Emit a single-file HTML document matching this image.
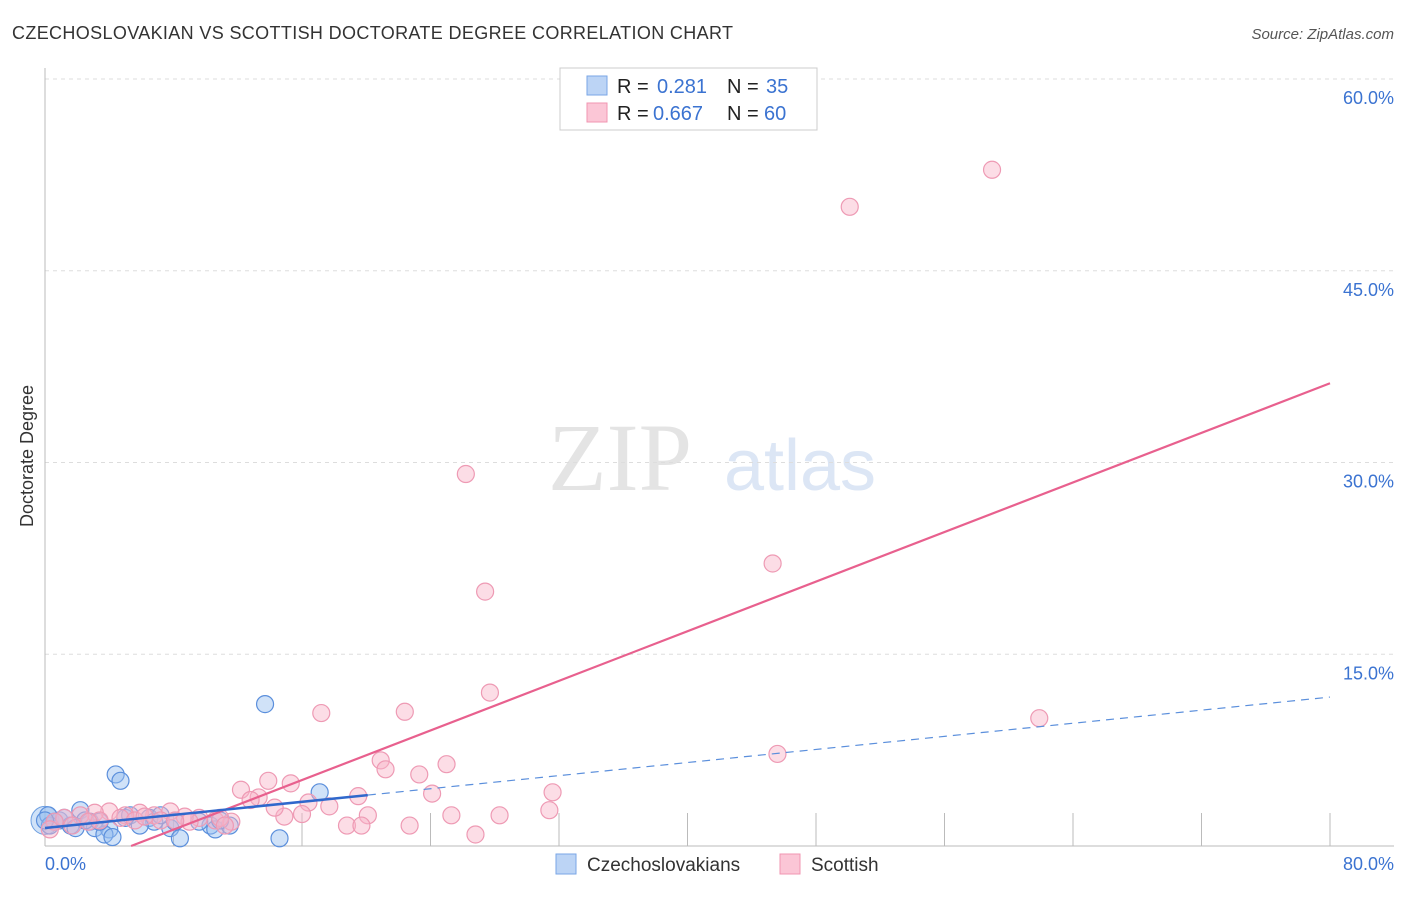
<!DOCTYPE html>
<html><head><meta charset="utf-8"><style>
body{margin:0;background:#fff;font-family:"Liberation Sans",sans-serif;}
</style></head><body>
<svg width="1406" height="892" xmlns="http://www.w3.org/2000/svg" style="font-family:'Liberation Sans',sans-serif">
<text x="12" y="39" font-size="18" fill="#333" textLength="721">CZECHOSLOVAKIAN VS SCOTTISH DOCTORATE DEGREE CORRELATION CHART</text>
<text x="1394" y="39" font-size="15" fill="#555" text-anchor="end" font-style="italic">Source: ZipAtlas.com</text>
<text x="620" y="490" font-size="96" fill="#e4e4e4" font-family="'Liberation Serif',serif" text-anchor="middle">ZIP</text>
<text x="800" y="490" font-size="72" fill="#dce6f5" text-anchor="middle">atlas</text>
<g id="grid"></g>
<g id="axes"></g>
<g id="marks"></g>
<text transform="translate(33,456) rotate(-90)" font-size="18" fill="#333" text-anchor="middle">Doctorate Degree</text>
<text x="45" y="870" font-size="18" fill="#3b73d1">0.0%</text>
<text x="1394" y="870" font-size="18" fill="#3b73d1" text-anchor="end">80.0%</text>
<g>
<rect x="560" y="68" width="257" height="62" fill="#fff" stroke="#ccc"/>
<rect x="587" y="76" width="20" height="19" fill="#bcd4f5" stroke="#7aa6e6"/>
<rect x="587" y="103" width="20" height="19" fill="#fbc6d6" stroke="#f095b1"/>
<text x="617" y="93" font-size="20" fill="#222">R = </text><text x="657" y="93" font-size="20" fill="#3b73d1">0.281</text>
<text x="727" y="93" font-size="20" fill="#222">N = </text><text x="766" y="93" font-size="20" fill="#3b73d1">35</text>
<text x="617" y="120" font-size="20" fill="#222">R = </text><text x="653" y="120" font-size="20" fill="#3b73d1">0.667</text>
<text x="727" y="120" font-size="20" fill="#222">N = </text><text x="764" y="120" font-size="20" fill="#3b73d1">60</text>
</g>
<g>
<rect x="556" y="854" width="20" height="20" fill="#bcd4f5" stroke="#7aa6e6"/>
<text x="587" y="871" font-size="19" fill="#333">Czechoslovakians</text>
<rect x="780" y="854" width="20" height="20" fill="#fbc6d6" stroke="#f095b1"/>
<text x="811" y="871" font-size="19" fill="#333">Scottish</text>
</g>
</svg>
<script>
const yTicks=[15,30,45,60];
const yTickLabels=["15.0%","30.0%","45.0%","60.0%"];
const xTicks=[8,16,24,32,40,48,56,64,72,80];
const pinkX=[58.96,50.1,26.2,27.4,45.3,27.7,17.2,22.4,61.9,45.6,20.9,21.2,23.3,25.0,13.9,15.3,12.2,13.3,31.6,19.5,24.1,12.8,17.7,16.4,16.0,14.9,14.3,20.1,31.4,25.3,28.3,22.7,18.8,19.7,26.8,11.6,10.6,9.6,8.7,7.8,6.8,5.9,5.0,4.0,3.1,2.2,1.2,0.6,0.3,3.4,4.7,5.6,7.2,9.0,10.9,11.2,8.1,6.2,2.7,1.7];
const pinkY=[52.9,50.0,29.1,19.9,22.1,12.0,10.4,10.5,10.0,7.2,6.7,6.0,5.6,6.4,5.1,4.9,4.4,3.8,4.2,3.9,4.1,3.6,3.1,3.4,2.5,2.3,3.0,2.4,2.8,2.4,2.4,1.6,1.6,1.6,0.9,1.9,2.0,2.2,2.3,2.7,2.4,2.6,2.4,2.7,2.6,2.4,2.2,1.9,1.3,2.0,2.2,2.0,2.0,1.9,2.2,1.6,2.0,2.3,1.9,1.6];
const blueX=[13.7,4.4,4.7,17.1,2.2,0.9,1.6,2.8,3.1,4.0,5.0,5.3,6.5,6.8,5.9,7.8,8.1,10.3,10.6,11.5,10.9,8.4,14.6,3.7,4.2,0.2,0.3,0.6,0,1.2,1.9,2.5,3.4,7.2,9.6];
const blueY=[11.1,5.6,5.1,4.2,2.8,2.0,1.6,1.9,1.4,1.3,2.2,2.4,2.2,1.9,1.6,1.4,1.9,1.6,1.3,1.6,2.0,0.6,0.6,0.9,0.7,2.4,1.6,1.9,2.0,2.2,1.4,2.0,1.9,2.4,1.9];
const pinkTrend=[-2.6,0.485];
const blueTrend=[1.41,0.128];
const blueSolidEnd=20.1;
const X=v=>45+v*1285/80, Y=v=>846-v*767/60;
const NS="http://www.w3.org/2000/svg";
function mk(t,a,p){const e=document.createElementNS(NS,t);for(const k in a)e.setAttribute(k,a[k]);document.getElementById(p).appendChild(e);return e;}
yTicks.forEach((t,i)=>{
 const l=mk('line',{x1:45,x2:1394,y1:Y(t),y2:Y(t),stroke:'#ddd','stroke-dasharray':'4,4'},'grid');
 
 
 const tx=mk('text',{x:1394,y:Y(t)+25,'font-size':18,fill:'#3b73d1','text-anchor':'end'},'grid');
 tx.textContent=yTickLabels[i];
 
 
});
let a=mk('line',{x1:45,x2:45,y1:68,y2:846,stroke:'#bbb'},'axes');


a=mk('line',{x1:45,x2:1394,y1:846,y2:846,stroke:'#bbb'},'axes');


xTicks.forEach(t=>{
 const l=mk('line',{x1:X(t),x2:X(t),y1:813,y2:846,stroke:'#bbb'},'axes');
 
 
});
let c=mk('circle',{cx:X(0),cy:Y(2.0),r:14,fill:'rgba(150,190,240,0.45)',stroke:'#6fa0e0'},'marks');


blueX.forEach((x,i)=>{
 const p=mk('circle',{cx:X(x),cy:Y(blueY[i]),r:8.5,fill:'rgba(150,190,240,0.45)',stroke:'#5b8fdc','stroke-width':1.2},'marks');
 
 
});
pinkX.forEach((x,i)=>{
 const p=mk('circle',{cx:X(x),cy:Y(pinkY[i]),r:8.5,fill:'rgba(248,180,200,0.45)',stroke:'#ee9ab4','stroke-width':1.2},'marks');
 
 
});
const px0=-pinkTrend[0]/pinkTrend[1];
let t=mk('line',{x1:X(px0),y1:Y(0),x2:X(80),y2:Y(pinkTrend[0]+pinkTrend[1]*80),stroke:'#e8608e','stroke-width':2.2},'marks');


t=mk('line',{x1:X(0),y1:Y(blueTrend[0]),x2:X(blueSolidEnd),y2:Y(blueTrend[0]+blueTrend[1]*blueSolidEnd),stroke:'#3068cc','stroke-width':2.5},'marks');


t=mk('line',{x1:X(blueSolidEnd),y1:Y(blueTrend[0]+blueTrend[1]*blueSolidEnd),x2:X(80),y2:Y(blueTrend[0]+blueTrend[1]*80),stroke:'#5b8fdc','stroke-width':1.2,'stroke-dasharray':'8,6'},'marks');


</script>
</body></html>
